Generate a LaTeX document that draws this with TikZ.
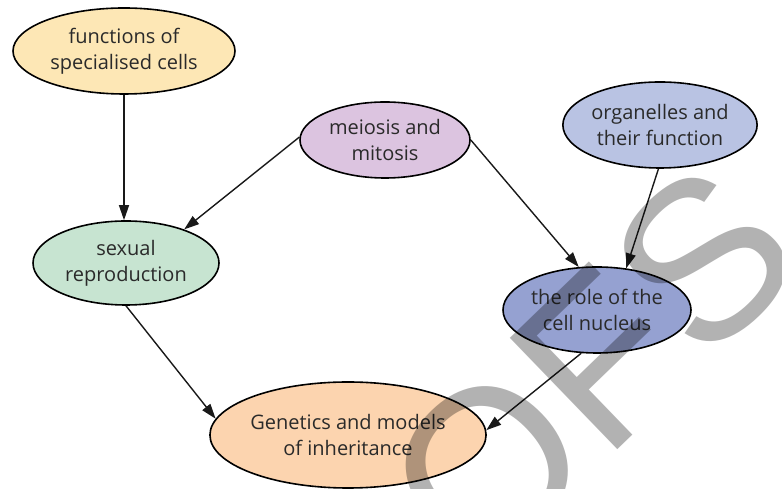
\documentclass[tikz,border=0pt]{standalone}
\usepackage{fontspec}
\setmainfont{Open Sans}
\newfontfamily\wmfont{Liberation Sans}
\usetikzlibrary{shapes.geometric,arrows.meta}
\definecolor{txt}{HTML}{2A2A2A}
\definecolor{cyel}{HTML}{FDE7B5}
\definecolor{cpur}{HTML}{DCC4E0}
\definecolor{corg}{HTML}{B9C3E3}
\definecolor{cgrn}{HTML}{C7E4D1}
\definecolor{cnuc}{HTML}{95A1D1}
\definecolor{cpea}{HTML}{FCD4AF}
\tikzset{
  topic/.style={ellipse, draw=black, line width=1.6pt, inner sep=0pt, align=center,
    text=txt, font=\fontsize{20}{26}\selectfont},
  link/.style={line width=1.4pt, draw=black!90, -{Triangle[length=15pt,width=10pt]}},
}
\begin{document}
\begin{tikzpicture}[x=1pt,y=1pt]
\useasboundingbox (0,0) rectangle (782,489);
\begin{scope}
\clip (0,0) rectangle (782,489);
\node[topic, fill=cyel, minimum width=222pt, minimum height=86pt] (F) at (124,438) {functions of\\specialised cells};
\node[topic, fill=cpur, minimum width=170pt, minimum height=76pt] (M) at (385,349) {meiosis and\\mitosis};
\node[topic, fill=corg, minimum width=190pt, minimum height=86pt] (O) at (660,364) {organelles and\\their function};
\node[topic, fill=cgrn, minimum width=186pt, minimum height=84pt] (S) at (126,226) {sexual\\reproduction};
\node[topic, fill=cnuc, minimum width=188pt, minimum height=86pt] (N) at (597,179) {the role of the\\cell nucleus};
\node[topic, fill=cpea, minimum width=276pt, minimum height=106pt] (G) at (348,54) {Genetics and models\\of inheritance};
\draw[link] (F.south) -- (F.south |- S.north);
\draw[link] (M.178) -- (S.30);
\draw[link] (M.0) -- (N.113);
\draw[link] (O.268) -- (N.55);
\draw[link] (S.270) -- (G.173);
\draw[link] (N.250) -- (G.2);
\node[rotate=44, anchor=base west, inner sep=0pt, text=black, text opacity=0.3,
  font=\fontsize{225}{225}\selectfont\wmfont] (W) at (128,-434) {PROOFS};
\end{scope}
\end{tikzpicture}
\end{document}
